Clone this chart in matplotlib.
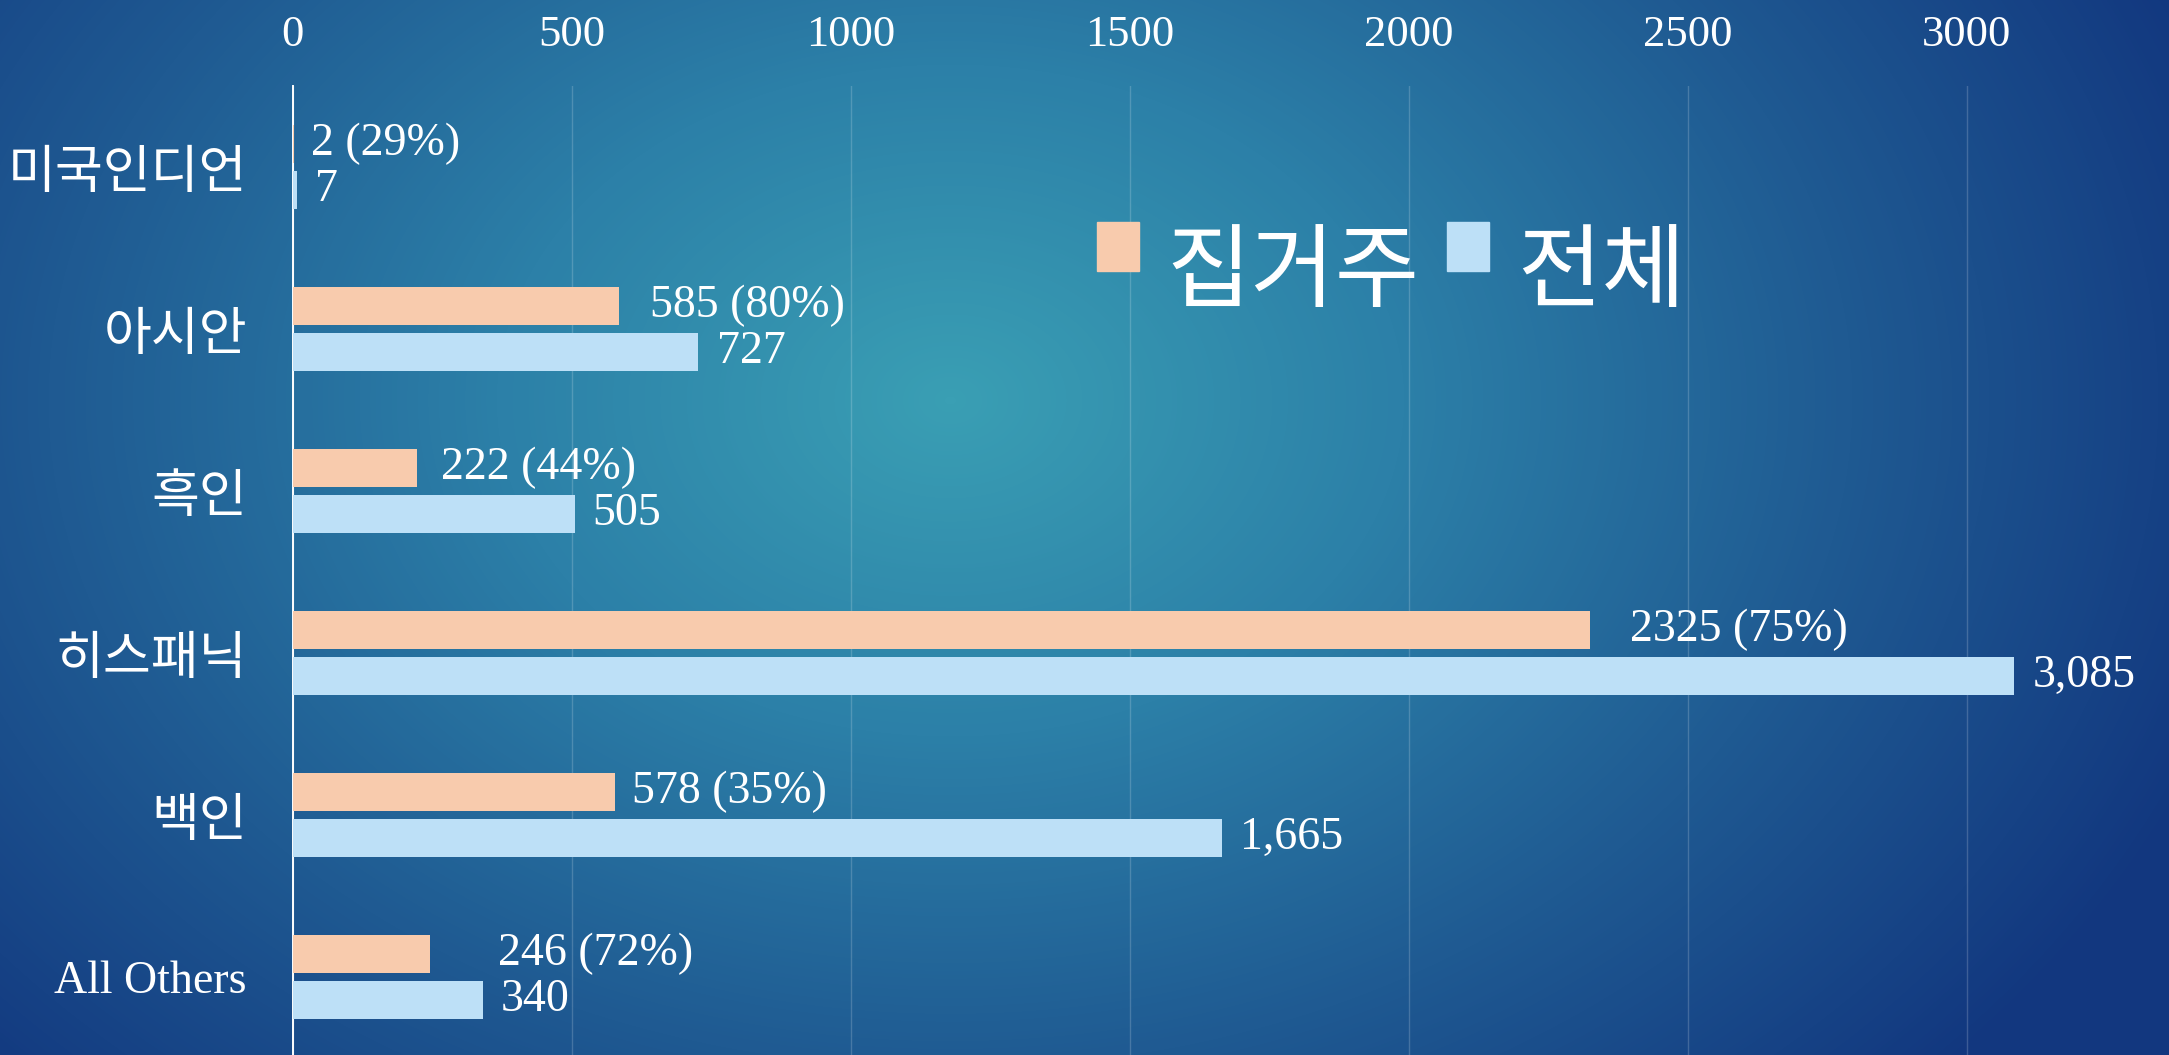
import numpy as np
import matplotlib
matplotlib.use("Agg")
import matplotlib.pyplot as plt
from matplotlib.colors import LinearSegmentedColormap
from matplotlib.patches import Patch, Rectangle
from matplotlib.legend_handler import HandlerPatch

# ── data ──────────────────────────────────────
categories = ["미국인디언", "아시안", "흑인", "히스패닉", "백인", "All Others"]
collective = [2, 585, 222, 2325, 578, 246]        # 집거주
total      = [7, 727, 505, 3085, 1665, 340]       # 전체
coll_pct   = [29, 80, 44, 75, 35, 72]
total_lbl  = ["7", "727", "505", "3,085", "1,665", "340"]
xticks     = [0, 500, 1000, 1500, 2000, 2500, 3000]

# ── style ─────────────────────────────────────
CLR_ORANGE = "#f8cbad"
CLR_BLUE   = "#bde0f7"
CLR_TEXT   = "white"
SERIF      = ["Liberation Serif", "DejaVu Serif"]
KOR        = ["Noto Sans CJK KR", "DejaVu Sans"]

W, H, DPI = 2169, 1055, 100
fig = plt.figure(figsize=(W / DPI, H / DPI), dpi=DPI)

# background: radial gradient, teal centre → navy edges
bg = fig.add_axes([0, 0, 1, 1], zorder=-10)
yy, xx = np.mgrid[0:H, 0:W]
r = np.sqrt(((xx - 950) / 1350.0) ** 2 + ((yy - 400) / 1000.0) ** 2)
r = np.clip(r, 0, 1)
cmap = LinearSegmentedColormap.from_list("bg", ["#3a9fb4", "#2c80a8", "#1f5a92", "#12377f"])
bg.imshow(r, cmap=cmap, aspect="auto", extent=[0, 1, 0, 1], vmin=0, vmax=1)
bg.axis("off")

# main axes (pixel layout from the reference)
ax_left, ax_top, ax_bot = 292.8, 86, 1058
ax = fig.add_axes([ax_left / W, 1 - ax_bot / H, 1 - ax_left / W, (ax_bot - ax_top) / H])
ax.set_facecolor("none")

y = np.arange(len(categories))
bh, off = 0.235, 0.142
ax.barh(y - off, collective, height=bh, color=CLR_ORANGE, zorder=3, label="집거주")
ax.barh(y + off, total, height=bh, color=CLR_BLUE, zorder=3, label="전체")

px_per_unit = 0.558
ax.set_xlim(0, (W - ax_left) / px_per_unit)
ax.set_ylim(len(categories) - 0.5, -0.5)

# data labels (label gaps in px, as placed in the reference)
coll_gap = [17, 31, 24, 40, 17, 68]
for i, (v, p) in enumerate(zip(collective, coll_pct)):
    ax.annotate(f"{v} ({p}%)", (v, y[i] - off), xytext=(coll_gap[i] * 0.72, 0),
                textcoords="offset points", va="center", ha="left",
                color=CLR_TEXT, fontsize=33, family=SERIF)
for i, (v, t) in enumerate(zip(total, total_lbl)):
    ax.annotate(t, (v, y[i] + off), xytext=(13, 0),
                textcoords="offset points", va="center", ha="left",
                color=CLR_TEXT, fontsize=33, family=SERIF)

# axes
ax.xaxis.tick_top()
ax.set_xticks(xticks)
ax.set_xticklabels([str(t) for t in xticks], family=SERIF)
ax.tick_params(axis="x", length=0, pad=22, labelsize=32, colors=CLR_TEXT)
ax.set_yticks(y)
ax.set_yticklabels(categories)
ax.tick_params(axis="y", length=0, pad=33, colors=CLR_TEXT)
for lbl in ax.get_yticklabels():
    if lbl.get_text().isascii():
        lbl.set_family(SERIF)
        lbl.set_fontsize(33)
    else:
        lbl.set_family(KOR)
        lbl.set_fontsize(37.5)

ax.grid(axis="x", color="white", alpha=0.18, lw=1.0, zorder=0)
ax.set_axisbelow(True)
for s in ("top", "right", "bottom"):
    ax.spines[s].set_visible(False)
ax.spines["left"].set_color("white")
ax.spines["left"].set_linewidth(1.4)


# legend: square markers sit a bit above the text centre, as in the original
def raised_square(legend, orig_handle, xdescent, ydescent, width, height, fontsize):
    return Rectangle((-xdescent, -ydescent + 15), width, height)


handles = [Patch(color=CLR_ORANGE, label="집거주"), Patch(color=CLR_BLUE, label="전체")]
leg = fig.legend(handles=handles, loc="center left", bbox_to_anchor=(1097 / W, 1 - 274 / H),
                 ncol=2, frameon=False, borderpad=0, borderaxespad=0,
                 handlelength=0.46, handleheight=0.46, handletextpad=0.3, columnspacing=0.3,
                 handler_map={Patch: HandlerPatch(patch_func=raised_square)},
                 prop={"family": KOR, "size": 66})
for t in leg.get_texts():
    t.set_color(CLR_TEXT)

fig.savefig("out.png", dpi=DPI)
